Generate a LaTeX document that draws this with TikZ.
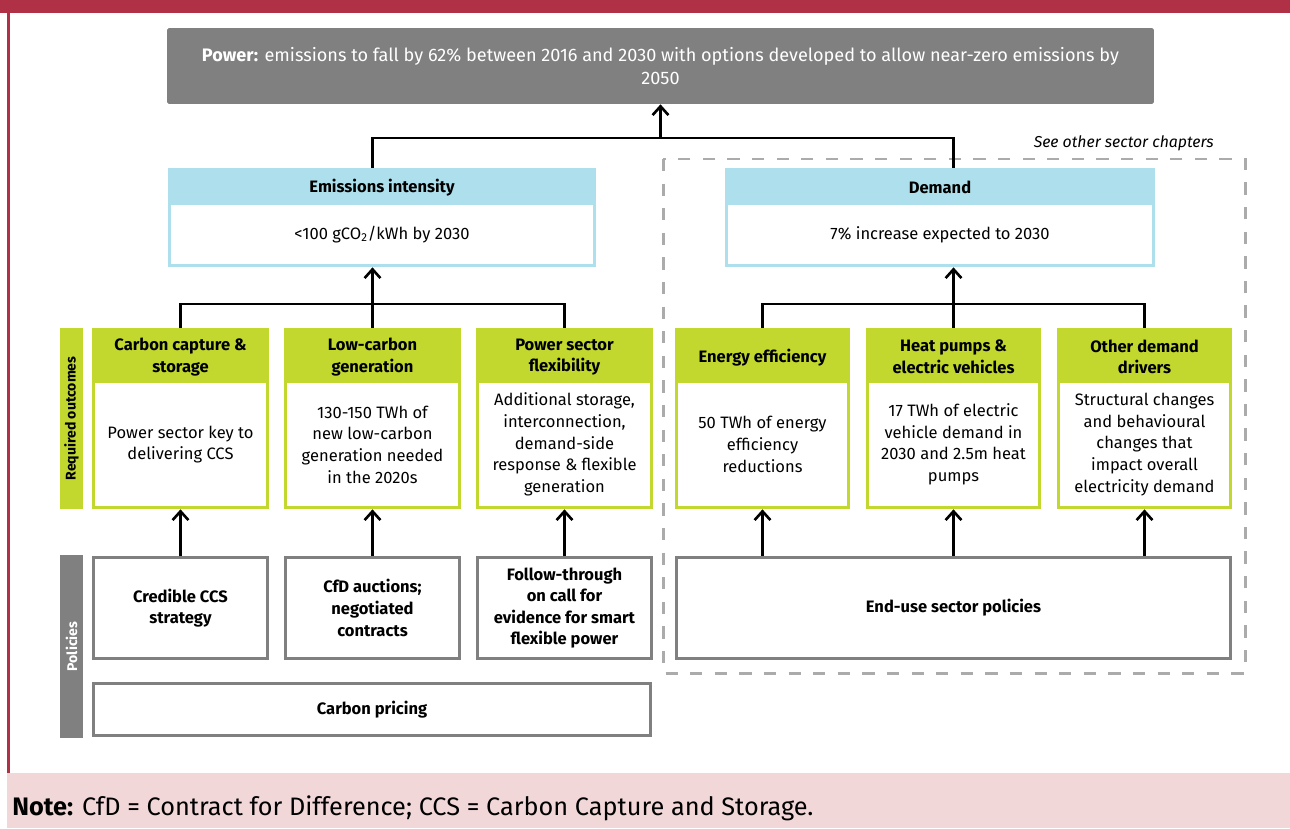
\documentclass[tikz,border=0pt]{standalone}
\usepackage{fontspec}
\setmainfont{Fira Sans}
\usetikzlibrary{arrows.meta}
\definecolor{ccred}{HTML}{B03045}
\definecolor{ccpink}{HTML}{F2D7D8}
\definecolor{ccgrey}{HTML}{808080}
\definecolor{ccblue}{HTML}{ADDFEC}
\definecolor{ccgreen}{HTML}{C2D82E}
\definecolor{ccdash}{HTML}{ABABAB}
\tikzset{
  wire/.style={line width=1.5pt},
  arr/.style={line width=1.5pt,-{Straight Barb[length=5pt,width=9pt,line width=1.5pt]}},
  fillbox/.style={inner sep=0pt,minimum height=#1},
  bluebox/.style={fillbox=1.98cm,fill=ccblue},
  greenbox/.style={fillbox=3.62cm,fill=ccgreen,minimum width=3.54cm},
  bodybox/.style={inner sep=0pt,fill=white,align=center},
  hdr/.style={inner sep=0pt,align=center,font=\fontsize{9.4}{12.3}\selectfont\bfseries},
  polbox/.style={inner sep=0pt,fill=white,draw=ccgrey,line width=1.7pt,align=center,
    minimum height=2.02cm,font=\fontsize{9.4}{12.3}\selectfont\bfseries},
  sidebar/.style={inner sep=0pt,minimum width=0.46cm,font=\fontsize{8}{10}\selectfont\bfseries}
}

\begin{document}
\begin{tikzpicture}[x=0.02cm,y=-0.02cm,font=\fontsize{9.4}{12.3}\selectfont]
		%%%%% FRAME %%%%%
		\useasboundingbox (0,0) rectangle (1290,828);
		\fill[white] (0,0) rectangle (1290,828);
		\fill[ccred] (0,0) rectangle (1290,13);
		\draw[ccred,line width=1.7pt] (8.5,13) -- (8.5,773);
		\fill[ccpink] (7,773) rectangle (1290,828);
		\node[anchor=west,inner sep=0pt,font=\fontsize{14.4}{16}\selectfont] (note) at (12,808)
			{\textbf{Note:} CfD = Contract for Difference; CCS = Carbon Capture and Storage.};
		
		%%%%% TOP %%%%%
		\node[fill=ccgrey,rounded corners=1pt,inner sep=0pt,minimum width=19.74cm,minimum height=1.52cm,
			text=white,align=center,font=\fontsize{10.3}{13}\selectfont] (power) at (660.5,66)
			{\textbf{Power:} emissions to fall by 62\% between 2016 and 2030 with options developed to allow near-zero emissions by\\2050};
		
		\draw[ccdash,line width=1.7pt,dash pattern=on 7pt off 7pt] (663,159) rectangle (1245,673);
		\node[anchor=east,inner sep=0pt,font=\fontsize{9}{11}\selectfont\itshape] (see) at (1214,143) {See other sector chapters};
		
		\node[bluebox,minimum width=8.56cm] (emis) at (382,217.5) {};
		\node[bodybox,minimum width=8.44cm,minimum height=1.18cm] (emisb) at (382,234.5) {<100 gCO\textsubscript{2}/kWh by 2030};
		\node[hdr] (emish) at (382,187.5) {Emissions intensity};
		
		\node[bluebox,minimum width=8.6cm] (dem) at (940,217.5) {};
		\node[bodybox,minimum width=8.48cm,minimum height=1.18cm] (demb) at (940,234.5) {7\% increase expected to 2030};
		\node[hdr] (demh) at (940,187.5) {Demand};
		
		%%%%% REQUIRED OUTCOMES %%%%%
		\node[sidebar,fill=ccgreen,minimum height=3.62cm] (req) at (71.5,418.5) {};
		\node[sidebar,rotate=90] (reqt) at (req.center) {Required outcomes};
		
		\node[greenbox] (ccs) at (180.5,418.5) {};
		\node[bodybox,minimum width=3.42cm,minimum height=2.46cm] (ccsb) at (180.5,444.5) {Power sector key to\\delivering CCS};
		\node[hdr] (ccsh) at (180.5,357) {Carbon capture \&\\storage};
		
		\node[greenbox] (lowc) at (372.5,418.5) {};
		\node[bodybox,minimum width=3.42cm,minimum height=2.46cm] (lowcb) at (372.5,444.5) {130-150 TWh of\\new low-carbon\\generation needed\\in the 2020s};
		\node[hdr] (lowch) at (372.5,357) {Low-carbon\\generation};
		
		\node[greenbox] (flex) at (564.5,418.5) {};
		\node[bodybox,minimum width=3.42cm,minimum height=2.46cm] (flexb) at (564.5,444.5) {Additional storage,\\interconnection,\\demand-side\\response \& flexible\\generation};
		\node[hdr] (flexh) at (564.5,357) {Power sector\\flexibility};
		
		\node[greenbox,minimum width=3.5cm] (effic) at (762.5,418.5) {};
		\node[bodybox,minimum width=3.38cm,minimum height=2.46cm] (efficb) at (762.5,444.5) {50 TWh of energy\\efficiency\\reductions};
		\node[hdr] (effich) at (762.5,358) {Energy efficiency};
		
		\node[greenbox,minimum width=3.5cm] (heat) at (953.5,418.5) {};
		\node[bodybox,minimum width=3.38cm,minimum height=2.46cm] (heatb) at (953.5,444.5) {17 TWh of electric\\vehicle demand in\\2030 and 2.5m heat\\pumps};
		\node[hdr] (heath) at (953.5,357) {Heat pumps \&\\electric vehicles};
		
		\node[greenbox,minimum width=3.5cm] (other) at (1144.5,418.5) {};
		\node[bodybox,minimum width=3.38cm,minimum height=2.46cm] (otherb) at (1144.5,444.5) {Structural changes\\and behavioural\\changes that\\impact overall\\electricity demand};
		\node[hdr] (otherh) at (1144.5,357) {Other demand\\drivers};
		
		%%%%% POLICIES %%%%%
		\node[sidebar,fill=ccgrey,minimum height=3.66cm] (pol) at (71.5,646.5) {};
		\node[sidebar,rotate=90,text=white] (polt) at (pol.center) {Policies};
		
		\node[polbox,minimum width=3.48cm] (pccs) at (180.5,608) {Credible CCS\\strategy};
		\node[polbox,minimum width=3.48cm] (plowc) at (372.5,608) {CfD auctions;\\negotiated\\contracts};
		\node[polbox,minimum width=3.48cm] (pflex) at (564.5,608) {Follow-through\\on call for\\evidence for smart\\flexible power};
		\node[polbox,minimum width=11.08cm] (enduse) at (953.5,608) {End-use sector policies};
		\node[polbox,minimum width=11.14cm,minimum height=1.04cm] (price) at (372,709.5) {Carbon pricing};
		
		%%%%% CONNECTORS %%%%%
		\coordinate (jP) at (660.5,138);
		\coordinate (jE) at (372.5,304);
		\coordinate (jD) at (953.5,304);
		
		\draw[wire] (emis.north -| jE) |- (jP) -| (dem.north -| jD);
		\draw[arr] (jP) -- (power.south -| jP);
		
		\draw[wire] (ccs.north) -- (ccs.north |- jE) -- (flex.north |- jE) -- (flex.north);
		\draw[wire] (lowc.north) -- (jE);
		\draw[arr] (jE) -- (emis.south -| jE);
		
		\draw[wire] (effic.north) -- (effic.north |- jD) -- (other.north |- jD) -- (other.north);
		\draw[wire] (heat.north) -- (jD);
		\draw[arr] (jD) -- (dem.south -| jD);
		
		\draw[arr] (pccs.north) -- (ccs.south);
		\draw[arr] (plowc.north) -- (lowc.south);
		\draw[arr] (pflex.north) -- (flex.south);
		\draw[arr] (effic.south |- enduse.north) -- (effic.south);
		\draw[arr] (heat.south |- enduse.north) -- (heat.south);
		\draw[arr] (other.south |- enduse.north) -- (other.south);
	\end{tikzpicture}
\end{document}
